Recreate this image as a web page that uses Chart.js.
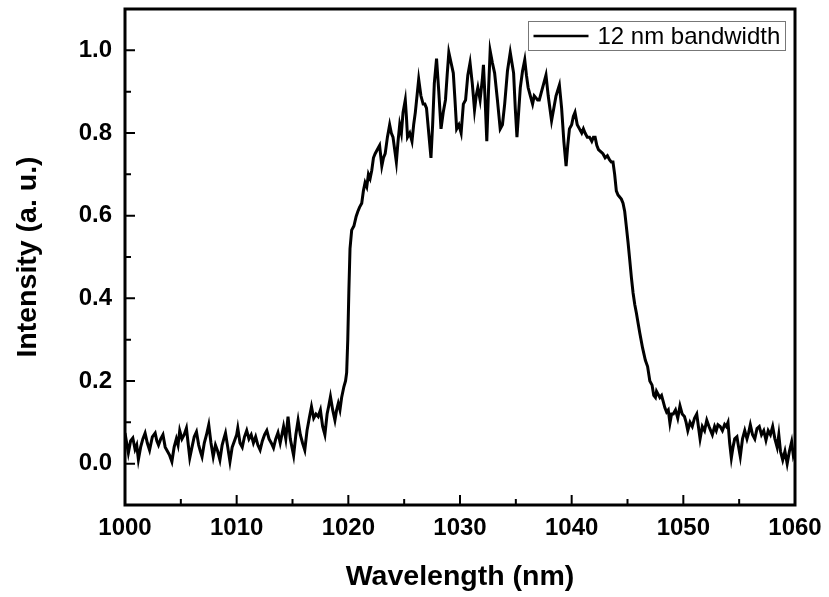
<!DOCTYPE html>
<html>
<head>
<meta charset="utf-8">
<script src="https://cdn.jsdelivr.net/npm/chart.js@4/dist/chart.umd.min.js"></script>
<style>
html,body{margin:0;padding:0;background:#fff;}
#wrap{width:829px;height:597px;position:relative;}
</style>
</head>
<body>
<div id="wrap"><canvas id="c" width="829" height="597"></canvas></div>
<script>
const seriesLabel = "12 nm bandwidth";
const xTitle = "Wavelength (nm)";
const yTitle = "Intensity (a. u.)";
const xTicks = [1000, 1010, 1020, 1030, 1040, 1050, 1060];
const xMinor = [1005, 1015, 1025, 1035, 1045, 1055];
const yTicks = [0.0, 0.2, 0.4, 0.6, 0.8, 1.0];
const yMinor = [0.1, 0.3, 0.5, 0.7, 0.9];

const wavelength = [
1000.0,1000.15,1000.3,1000.5,1000.7,1000.9,1001.05,1001.2,1001.4,1001.6,1001.8,1002.0,1002.2,1002.45,1002.7,1002.85,
1003.0,1003.2,1003.4,1003.6,1003.8,1004.0,1004.2,1004.4,1004.6,1004.75,1004.9,1005.1,1005.3,1005.5,1005.65,1005.8,
1006.0,1006.2,1006.4,1006.6,1006.75,1006.9,1007.1,1007.3,1007.5,1007.7,1007.9,1008.1,1008.3,1008.5,1008.7,1008.85,
1009.0,1009.2,1009.4,1009.6,1009.8,1010.0,1010.1,1010.3,1010.5,1010.7,1010.9,1011.1,1011.3,1011.5,1011.7,1011.9,
1012.1,1012.3,1012.5,1012.7,1012.9,1013.1,1013.3,1013.5,1013.7,1013.9,1014.05,1014.2,1014.4,1014.6,1014.8,1014.95,
1015.1,1015.3,1015.5,1015.7,1015.9,1016.1,1016.3,1016.5,1016.7,1016.9,1017.1,1017.3,1017.5,1017.7,1017.9,1018.1,
1018.25,1018.4,1018.6,1018.8,1018.95,1019.1,1019.25,1019.4,1019.6,1019.75,1019.85,1019.95,1020.05,1020.15,1020.3,1020.5,
1020.7,1020.85,1021.0,1021.2,1021.35,1021.5,1021.65,1021.8,1021.95,1022.1,1022.25,1022.4,1022.6,1022.8,1022.9,1023.0,
1023.15,1023.3,1023.5,1023.7,1023.85,1024.0,1024.15,1024.3,1024.45,1024.6,1024.75,1024.9,1025.1,1025.2,1025.3,1025.5,
1025.7,1025.85,1026.0,1026.15,1026.3,1026.5,1026.7,1026.85,1027.0,1027.2,1027.4,1027.55,1027.7,1027.9,1028.1,1028.3,
1028.5,1028.7,1028.85,1029.0,1029.2,1029.4,1029.55,1029.7,1029.9,1030.1,1030.3,1030.5,1030.7,1030.9,1031.1,1031.3,
1031.45,1031.6,1031.8,1032.0,1032.1,1032.25,1032.4,1032.55,1032.7,1032.9,1033.1,1033.35,1033.6,1033.8,1034.0,1034.25,
1034.5,1034.65,1034.8,1034.95,1035.1,1035.25,1035.4,1035.6,1035.8,1035.95,1036.1,1036.3,1036.5,1036.65,1036.8,1036.95,
1037.1,1037.3,1037.5,1037.7,1037.9,1038.05,1038.2,1038.4,1038.6,1038.9,1039.1,1039.3,1039.5,1039.65,1039.8,1040.0,
1040.15,1040.3,1040.5,1040.7,1040.9,1041.05,1041.2,1041.4,1041.6,1041.8,1041.95,1042.1,1042.25,1042.4,1042.6,1042.8,
1043.0,1043.2,1043.4,1043.55,1043.7,1043.85,1044.0,1044.15,1044.3,1044.45,1044.6,1044.75,1044.9,1045.05,1045.2,1045.35,
1045.5,1045.65,1045.8,1045.95,1046.1,1046.35,1046.6,1046.8,1047.0,1047.2,1047.35,1047.5,1047.6,1047.7,1047.9,1048.05,
1048.2,1048.35,1048.5,1048.65,1048.8,1048.95,1049.1,1049.3,1049.5,1049.7,1049.9,1050.1,1050.25,1050.4,1050.6,1050.8,
1051.0,1051.2,1051.35,1051.5,1051.7,1051.9,1052.1,1052.3,1052.45,1052.6,1052.8,1052.95,1053.1,1053.3,1053.5,1053.7,
1053.85,1054.0,1054.15,1054.3,1054.45,1054.6,1054.8,1054.95,1055.1,1055.3,1055.5,1055.7,1055.85,1056.0,1056.2,1056.4,
1056.6,1056.8,1057.0,1057.2,1057.4,1057.6,1057.8,1058.0,1058.2,1058.4,1058.55,1058.7,1058.9,1059.1,1059.3,1059.5,
1059.7,1059.85,1060.0
];

const intensity = [
0.074,0.05,0.026,0.055,0.062,0.035,0.045,0.010,0.04,0.06,0.074,0.05,0.033,0.065,0.074,0.055,
0.045,0.06,0.07,0.04,0.03,0.02,0.005,0.04,0.06,0.045,0.08,0.06,0.07,0.086,0.05,0.014,
0.04,0.065,0.077,0.045,0.03,0.017,0.05,0.07,0.094,0.05,0.017,0.045,0.03,0.009,0.045,0.06,
0.074,0.04,0.005,0.04,0.055,0.07,0.086,0.05,0.04,0.065,0.08,0.06,0.07,0.05,0.065,0.045,
0.033,0.055,0.07,0.08,0.06,0.05,0.038,0.06,0.075,0.05,0.07,0.09,0.06,0.114,0.06,0.04,
0.020,0.07,0.105,0.07,0.05,0.033,0.08,0.11,0.138,0.11,0.12,0.114,0.13,0.09,0.070,0.12,
0.14,0.162,0.13,0.105,0.13,0.146,0.13,0.16,0.186,0.20,0.22,0.30,0.42,0.52,0.565,0.575,
0.598,0.61,0.62,0.63,0.66,0.68,0.67,0.70,0.69,0.71,0.74,0.75,0.76,0.77,0.745,0.72,
0.74,0.75,0.79,0.82,0.80,0.79,0.76,0.73,0.78,0.82,0.80,0.85,0.88,0.84,0.79,0.80,
0.78,0.82,0.85,0.89,0.93,0.89,0.87,0.87,0.86,0.80,0.74,0.82,0.92,0.98,0.90,0.81,
0.85,0.88,0.94,0.995,0.97,0.945,0.88,0.81,0.82,0.80,0.87,0.88,0.94,0.97,0.92,0.856,
0.89,0.91,0.88,0.93,0.965,0.88,0.78,0.90,0.999,0.97,0.945,0.88,0.81,0.82,0.87,0.95,
0.995,0.97,0.945,0.86,0.79,0.85,0.91,0.95,0.977,0.94,0.91,0.89,0.87,0.89,0.885,0.88,
0.88,0.90,0.92,0.94,0.89,0.86,0.83,0.86,0.89,0.916,0.86,0.78,0.72,0.77,0.81,0.82,
0.84,0.85,0.82,0.81,0.80,0.81,0.80,0.79,0.79,0.78,0.79,0.79,0.77,0.76,0.755,0.75,
0.74,0.745,0.735,0.73,0.73,0.70,0.66,0.65,0.645,0.64,0.63,0.61,0.573,0.535,0.493,0.45,
0.413,0.385,0.364,0.34,0.316,0.28,0.25,0.235,0.20,0.19,0.165,0.16,0.175,0.17,0.16,0.165,
0.15,0.135,0.125,0.13,0.098,0.12,0.12,0.13,0.11,0.14,0.12,0.114,0.10,0.08,0.10,0.09,
0.11,0.12,0.09,0.06,0.09,0.08,0.105,0.09,0.08,0.07,0.09,0.08,0.094,0.09,0.08,0.095,
0.09,0.10,0.05,0.014,0.04,0.06,0.065,0.04,0.017,0.06,0.08,0.06,0.075,0.094,0.07,0.06,
0.085,0.09,0.07,0.08,0.057,0.08,0.07,0.09,0.06,0.04,0.07,0.03,0.009,0.03,0.0,0.03,
0.053,0.02,0.033
];

const points = wavelength.map((x, i) => ({x: x, y: intensity[i]}));

const FONT = "'Liberation Sans', Arial, sans-serif";

const framePlugin = {
  id: 'frame',
  afterDraw(chart) {
    const {ctx, chartArea: a, scales} = chart;
    const xs = scales.x, ys = scales.y;
    ctx.save();
    ctx.strokeStyle = '#000';
    ctx.lineWidth = 2;
    ctx.beginPath();
    xTicks.forEach(v => { const p = xs.getPixelForValue(v); ctx.moveTo(p, a.bottom); ctx.lineTo(p, a.bottom - 10); });
    xMinor.forEach(v => { const p = xs.getPixelForValue(v); ctx.moveTo(p, a.bottom); ctx.lineTo(p, a.bottom - 6); });
    yTicks.forEach(v => { const p = ys.getPixelForValue(v); ctx.moveTo(a.left, p); ctx.lineTo(a.left + 10, p); });
    yMinor.forEach(v => { const p = ys.getPixelForValue(v); ctx.moveTo(a.left, p); ctx.lineTo(a.left + 6, p); });
    ctx.stroke();
    ctx.lineWidth = 3;
    ctx.strokeRect(a.left, a.top, a.right - a.left, a.bottom - a.top);
    const bx = 528.5, by = 21.5, bw = 257, bh = 29;
    ctx.fillStyle = '#fff';
    ctx.fillRect(bx, by, bw, bh);
    ctx.lineWidth = 1;
    ctx.strokeStyle = '#777';
    ctx.strokeRect(bx, by, bw, bh);
    ctx.strokeStyle = '#000';
    ctx.lineWidth = 2.5;
    ctx.beginPath();
    ctx.moveTo(bx + 5, by + bh / 2);
    ctx.lineTo(bx + 60, by + bh / 2);
    ctx.stroke();
    ctx.fillStyle = '#000';
    ctx.font = "24px " + FONT;
    ctx.textBaseline = 'middle';
    ctx.textAlign = 'left';
    ctx.fillText(chart.data.datasets[0].label, bx + 69, by + bh / 2 + 1);
    ctx.restore();
  }
};

new Chart(document.getElementById('c'), {
  type: 'line',
  data: {
    datasets: [{
      label: seriesLabel,
      data: points,
      borderColor: '#000',
      borderWidth: 3,
      pointRadius: 0,
      tension: 0,
      fill: false
    }]
  },
  options: {
    responsive: false,
    animation: false,
    devicePixelRatio: 1,
    layout: { padding: { top: 9, right: 34, left: 0, bottom: 0 } },
    plugins: { legend: { display: false }, tooltip: { enabled: false } },
    scales: {
      x: {
        type: 'linear',
        min: 1000, max: 1060,
        grid: { display: false, drawTicks: false },
        border: { display: false },
        afterBuildTicks: s => { s.ticks = xTicks.map(v => ({value: v})); },
        afterFit: s => { s.height = 92; s.paddingLeft = 0; s.paddingRight = 0; },
        ticks: {
          padding: 9,
          color: '#000',
          font: { family: FONT, size: 24, weight: 'bold' },
          callback: v => String(v),
          maxRotation: 0, autoSkip: false
        },
        title: {
          display: true, text: xTitle, color: '#000',
          font: { family: FONT, size: 28.5, weight: 'bold' },
          padding: { top: 0, bottom: 3 }
        }
      },
      y: {
        type: 'linear',
        min: -0.1, max: 1.1,
        grid: { display: false, drawTicks: false },
        border: { display: false },
        afterBuildTicks: s => { s.ticks = yTicks.map(v => ({value: v})); },
        afterFit: s => { s.width = 125; s.paddingTop = 0; s.paddingBottom = 0; },
        ticks: {
          padding: 13,
          color: '#000',
          font: { family: FONT, size: 24, weight: 'bold' },
          callback: v => Number(v).toFixed(1),
          autoSkip: false
        },
        title: {
          display: true, text: yTitle, color: '#000',
          font: { family: FONT, size: 28.5, weight: 'bold' },
          padding: { top: 11, bottom: 0 }
        }
      }
    }
  },
  plugins: [framePlugin]
});
</script>
</body>
</html>
